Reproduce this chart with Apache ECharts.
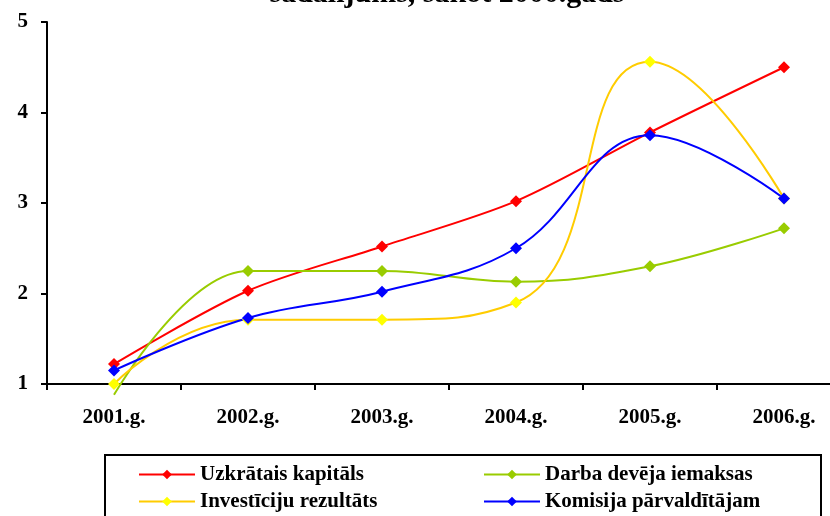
<!DOCTYPE html>
<html>
<head>
<meta charset="utf-8">
<script src="https://cdn.jsdelivr.net/npm/echarts@6/dist/echarts.min.js"></script>
<style>
  html, body { margin: 0; padding: 0; background: #fff; }
  #chart { width: 830px; height: 516px; }
</style>
</head>
<body>
<div id="chart"></div>
<script>
// 数据
var years = ['2001.g.', '2002.g.', '2003.g.', '2004.g.', '2005.g.', '2006.g.'];
var uzkratais = [1.22, 2.03, 2.52, 3.02, 3.78, 4.50];
var darbaDeveja = [0.88, 2.25, 2.25, 2.13, 2.30, 2.72];
var investiciju = [1.00, 1.71, 1.71, 1.90, 4.56, 3.05];
var komisija = [1.15, 1.73, 2.02, 2.50, 3.75, 3.05];
var yTicks = [1, 2, 3, 4, 5];

var font = '"Liberation Serif", "Times New Roman", serif';
var labelStyle = { fontFamily: font, fontWeight: 'bold', fontSize: 21, color: '#000' };

function makeLine(name, data, lineColor, markColor, smooth) {
    return {
        name: name,
        type: 'line',
        data: data,
        smooth: smooth,
        symbol: 'diamond',
        symbolSize: 12,
        clip: false,
        lineStyle: { color: lineColor, width: 2 },
        itemStyle: { color: markColor },
        emphasis: { disabled: true }
    };
}

// 单项图例，手动摆放成两列
function makeLegend(name, left, top) {
    return {
        data: [name],
        left: left,
        top: top,
        padding: 0,
        itemWidth: 56,
        itemHeight: 12,
        textStyle: labelStyle
    };
}

var myChart = echarts.init(document.getElementById('chart'));

// 绿色第一点在坐标轴下方，不画标记
var greenData = darbaDeveja.map(function (v, i) {
    return i === 0 ? { value: v, symbol: 'none' } : v;
});

var option = {
    animation: false,
    backgroundColor: '#fff',
    title: {
        text: 'sadalījums, sākot 2000.gads',
        left: 442,
        top: -26,
        textAlign: 'center',
        textStyle: { fontFamily: font, fontWeight: 'bold', fontSize: 30, color: '#000' }
    },
    grid: {
        left: 47,
        top: 22,
        width: 804,
        bottom: 132,
        outerBoundsMode: 'none'
    },
    legend: [
        makeLegend('Uzkrātais kapitāls', 138, 464),
        makeLegend('Investīciju rezultāts', 138, 491),
        makeLegend('Darba devēja iemaksas', 483, 464),
        makeLegend('Komisija pārvaldītājam', 483, 491)
    ],
    graphic: [{
        type: 'rect',
        shape: { x: 105, y: 455, width: 716, height: 70 },
        style: { fill: 'none', stroke: '#000', lineWidth: 2 },
        z: -1
    }],
    xAxis: {
        type: 'category',
        data: years,
        boundaryGap: true,
        axisLine: { lineStyle: { color: '#000', width: 2 } },
        axisTick: { show: true, interval: 0, length: 6, lineStyle: { color: '#000', width: 2 } },
        axisLabel: Object.assign({ margin: 23 }, labelStyle),
        splitLine: { show: false }
    },
    yAxis: {
        type: 'value',
        min: yTicks[0],
        max: yTicks[yTicks.length - 1],
        interval: 1,
        axisLine: { show: true, lineStyle: { color: '#000', width: 2 } },
        axisTick: { show: true, length: 6, lineStyle: { color: '#000', width: 2 } },
        axisLabel: Object.assign({ margin: 19 }, labelStyle),
        splitLine: { show: false }
    },
    series: [
        makeLine('Uzkrātais kapitāls', uzkratais, '#FF0000', '#FF0000', 0.3),
        makeLine('Darba devēja iemaksas', greenData, '#99CC00', '#99CC00', 0.4),
        makeLine('Investīciju rezultāts', investiciju, '#FFCC00', '#FFFF00', 0.5),
        makeLine('Komisija pārvaldītājam', komisija, '#0000FF', '#0000FF', 0.4)
    ]
};

myChart.setOption(option);
</script>
</body>
</html>
